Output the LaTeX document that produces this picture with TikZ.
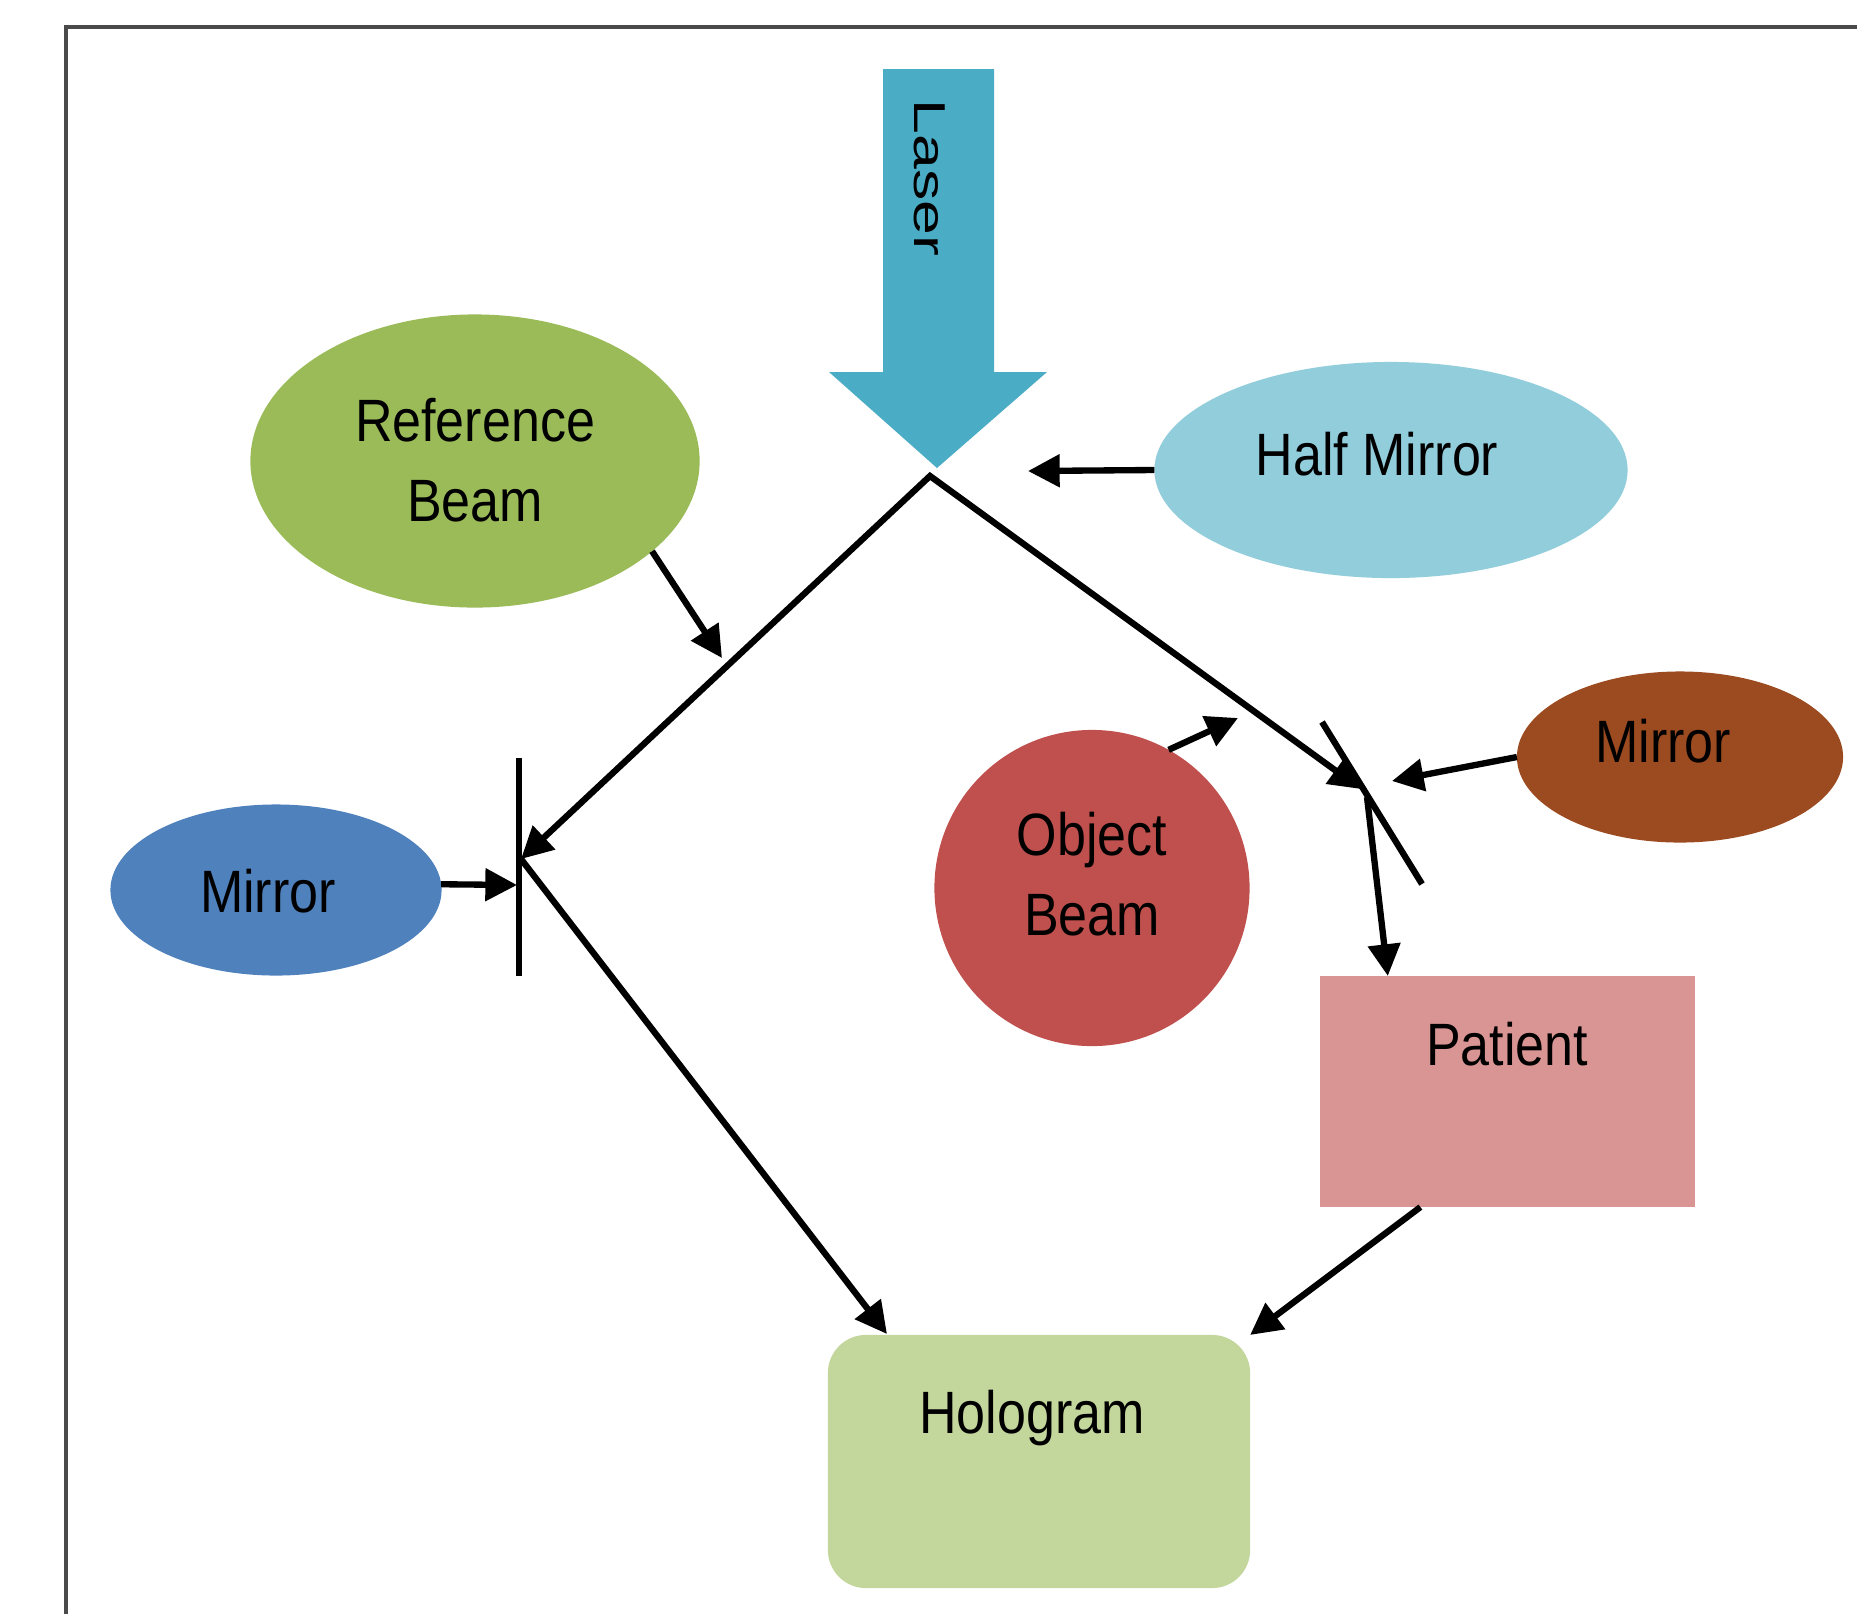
\documentclass[tikz,border=0pt]{standalone}
\usepackage{fontspec}
\setmainfont{Liberation Sans}[FakeStretch=0.87]
\newfontfamily\laserfont{Liberation Sans}
\usetikzlibrary{arrows.meta,shapes.geometric}
\definecolor{refgreen}{HTML}{9BBB59}
\definecolor{halfblue}{HTML}{92CDDC}
\definecolor{mirblue}{HTML}{4F81BD}
\definecolor{mirbrown}{HTML}{9C4A1F}
\definecolor{objred}{HTML}{C0504D}
\definecolor{patpink}{HTML}{D99594}
\definecolor{holgreen}{HTML}{C3D69B}
\definecolor{laserblue}{HTML}{4BACC6}
\definecolor{framec}{HTML}{4A4A4A}
\begin{document}
\begin{tikzpicture}[x=0.01cm,y=-0.01cm,
  shp/.style={draw=none,inner sep=0pt,outer sep=0pt},
  txt/.style={inner sep=0pt,outer sep=0pt,font=\fontsize{17}{22.8}\selectfont,text=black},
  tip/.style={Triangle[length=9pt,width=9pt]},
  arr/.style={line width=1.8pt,-{Triangle[length=9pt,width=9pt]}},
  bar/.style={line width=1.8pt}]
\useasboundingbox (0,0) rectangle (1857,1614);
\fill[white] (0,0) rectangle (1857,1614);
% frame
\draw[framec,line width=0.9pt] (66,1614) -- (66,27) -- (1857,27);
% laser arrow
\fill[laserblue] (883,69) -- (994,69) -- (994,372) -- (1047,372) -- (937,468) -- (829,372) -- (883,372) -- cycle;
\node[rotate=-90,inner sep=0pt,font=\laserfont\fontsize{12.7}{15}\selectfont] (laser-t) at (930,178) {\scalebox{1.4}[1]{Laser}};
% shapes
\node[shp,ellipse,fill=refgreen,minimum width=4.49cm,minimum height=2.93cm] (refbeam) at (475,461) {};
\node[txt,align=center] (refbeam-t) at (475,460) {Reference\\Beam};
\node[shp,ellipse,fill=halfblue,minimum width=4.73cm,minimum height=2.16cm] (halfmirror) at (1391,470) {};
\node[txt,anchor=base] (halfmirror-t) at (1377,475) {Half Mirror};
\node[shp,ellipse,fill=mirblue,minimum width=3.31cm,minimum height=1.71cm] (lmirror) at (276,890) {};
\node[txt,anchor=base] (lmirror-t) at (268,912) {Mirror};
\node[shp,ellipse,fill=mirbrown,minimum width=3.26cm,minimum height=1.71cm] (rmirror) at (1680,757) {};
\node[txt,anchor=base] (rmirror-t) at (1663,762) {Mirror};
\node[shp,ellipse,fill=objred,minimum width=3.15cm,minimum height=3.16cm] (objbeam) at (1092,888) {};
\node[txt,align=center] (objbeam-t) at (1092,874) {Object\\Beam};
\node[shp,rectangle,fill=patpink,minimum width=3.75cm,minimum height=2.31cm] (patient) at (1507.5,1091.5) {};
\node[txt,anchor=base] (patient-t) at (1507,1065) {Patient};
\node[shp,rectangle,rounded corners=0.38cm,fill=holgreen,minimum width=4.22cm,minimum height=2.53cm] (holo) at (1039,1461.5) {};
\node[txt,anchor=base] (holo-t) at (1032,1433) {Hologram};
% coordinates
\coordinate (split) at (930,476);
\coordinate (lmhit) at (521,859);
\coordinate (lmtop) at (519,758);
\coordinate (lmbot) at (519,976);
\coordinate (rmtop) at (1322,722);
\coordinate (rmbot) at (1422,884);
\coordinate (rmhit) at (1361,789);
\coordinate (rmout) at (1367,797);
\coordinate (lmin) at (517,885);
\coordinate (rmin) at (1392,781);
\coordinate (hmtip) at (1028,471);
\coordinate (reftip) at (722,658);
\coordinate (objtip) at (1238,718);
\coordinate (holoin) at (887,1334);
% mirrors
\draw[bar] (lmtop) -- (lmbot);
\draw[bar] (rmtop) -- (rmbot);
% beams
\draw[line width=1.8pt,{Triangle[length=9pt,width=9pt]}-{Triangle[length=9pt,width=9pt]}] (lmhit) -- (split) -- (rmhit);
\draw[arr] (lmhit) -- (holoin);
\draw[arr] (lmirror.2) -- (lmin);
\draw[arr] (rmout) -- (patient.136.1);
\draw[arr] (rmirror.west) -- (rmin);
\draw[arr] (patient.233.4) -- (holo.north east);
\draw[arr] (halfmirror.west) -- (hmtip);
\draw[arr] (refbeam.-27.6) -- (reftip);
\draw[arr] (objbeam.61) -- (objtip);
\end{tikzpicture}
\end{document}
